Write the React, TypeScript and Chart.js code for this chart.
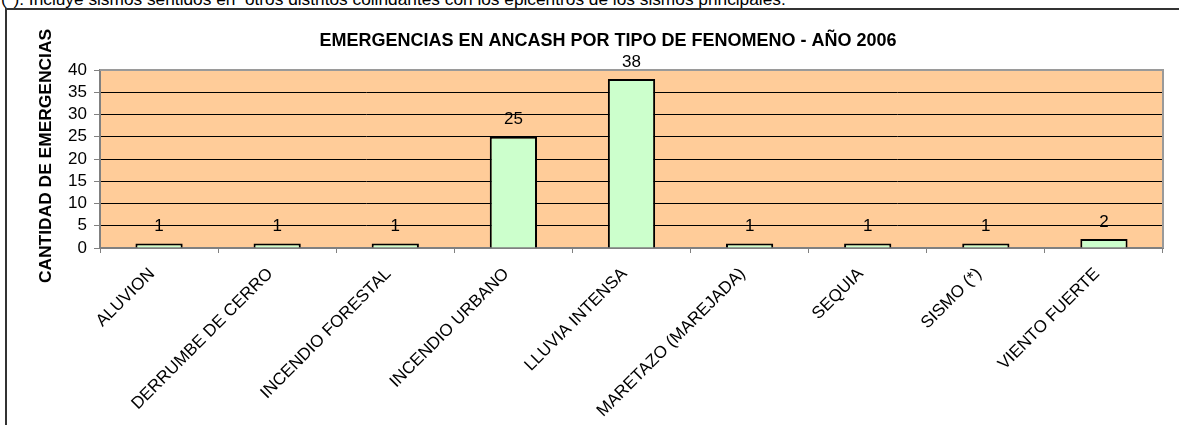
import React, { useEffect, useRef } from "react";
import { Chart, registerables } from "chart.js";

Chart.register(...registerables);

const categories = [
  "ALUVION",
  "DERRUMBE DE CERRO",
  "INCENDIO FORESTAL",
  "INCENDIO URBANO",
  "LLUVIA INTENSA",
  "MARETAZO (MAREJADA)",
  "SEQUIA",
  "SISMO (*)",
  "VIENTO FUERTE",
];
const emergencias = [1, 1, 1, 25, 38, 1, 1, 1, 2];
const yMin = 0;
const yMax = 40;
const yStep = 5;
const chartTitle = "EMERGENCIAS EN ANCASH POR TIPO DE FENOMENO - AÑO 2006";
const yAxisTitle = "CANTIDAD DE EMERGENCIAS";
const footNote =
  "(*): Incluye sismos sentidos en  otros distritos colindantes con los epicentros de los sismos principales.";

const FONT = "Arial, 'Liberation Sans', sans-serif";

const decorPlugin = {
  id: "decor",
  beforeDraw(chart: any) {
    const { ctx, chartArea } = chart;
    ctx.save();
    ctx.fillStyle = "#FFCC99";
    ctx.fillRect(chartArea.left, chartArea.top, chartArea.right - chartArea.left, chartArea.bottom - chartArea.top);
    ctx.restore();
  },
  afterDraw(chart: any) {
    const { ctx, chartArea } = chart;
    ctx.save();
    // top and right plot border
    ctx.strokeStyle = "#9a9a9a";
    ctx.lineWidth = 2;
    ctx.beginPath();
    ctx.moveTo(chartArea.left, chartArea.top);
    ctx.lineTo(chartArea.right, chartArea.top);
    ctx.lineTo(chartArea.right, chartArea.bottom);
    ctx.stroke();
    // title
    ctx.fillStyle = "#000";
    ctx.font = `bold 18px ${FONT}`;
    ctx.textAlign = "center";
    ctx.textBaseline = "middle";
    ctx.fillText(chartTitle, 608, 41);
    // y axis title
    ctx.font = `bold 17.4px ${FONT}`;
    ctx.translate(46, 156);
    ctx.rotate(-Math.PI / 2);
    ctx.fillText(yAxisTitle, 0, 0);
    ctx.restore();
  },
};

const valueLabelPlugin = {
  id: "valueLabels",
  afterDatasetsDraw(chart: any) {
    const { ctx } = chart;
    const meta = chart.getDatasetMeta(0);
    ctx.save();
    ctx.fillStyle = "#000";
    ctx.font = `17px ${FONT}`;
    ctx.textAlign = "center";
    ctx.textBaseline = "middle";
    meta.data.forEach((bar: any, i: number) => {
      ctx.fillText(String(emergencias[i]), bar.x, bar.y - 17);
    });
    ctx.restore();
  },
};

export default function App() {
  const canvasRef = useRef<HTMLCanvasElement | null>(null);

  useEffect(() => {
    const canvas = canvasRef.current;
    if (!canvas) return;
    const chart = new Chart(canvas, {
      type: "bar",
      data: {
        labels: categories,
        datasets: [
          {
            data: emergencias,
            backgroundColor: "#CCFFCC",
            borderColor: "#000000",
            borderWidth: 2,
            categoryPercentage: 1,
            barPercentage: 0.4,
          },
        ],
      },
      options: {
        responsive: false,
        animation: false,
        devicePixelRatio: 1,
        layout: { padding: { left: 0, top: 70, right: 16, bottom: 0 } },
        plugins: {
          legend: { display: false },
          title: { display: false },
          tooltip: { enabled: false },
        },
        scales: {
          x: {
            offset: true,
            grid: {
              offset: true,
              drawOnChartArea: false,
              drawTicks: true,
              tickLength: 5,
              color: "#808080",
              lineWidth: 1,
            },
            border: { color: "#808080", width: 2 },
            ticks: {
              autoSkip: false,
              minRotation: 45,
              maxRotation: 45,
              color: "#000",
              padding: 11,
              labelOffset: -7,
              font: { family: FONT, size: 17 },
            },
            afterFit(scale: any) {
              scale.height = 177;
            },
          },
          y: {
            min: yMin,
            max: yMax,
            ticks: {
              stepSize: yStep,
              autoSkip: false,
              color: "#000",
              padding: 7,
              font: { family: FONT, size: 17 },
            },
            grid: {
              color: "#000000",
              lineWidth: 1,
              tickLength: 6,
              tickColor: "#808080",
            },
            border: { color: "#808080", width: 2 },
            afterFit(scale: any) {
              scale.width = 100;
            },
          },
        },
      },
      plugins: [decorPlugin, valueLabelPlugin],
    });
    return () => chart.destroy();
  }, []);

  return (
    <div
      style={{
        position: "absolute",
        left: 0,
        top: 0,
        width: 1179,
        height: 425,
        overflow: "hidden",
        background: "#fff",
      }}
    >
      <div
        style={{
          position: "absolute",
          left: 1,
          top: -11,
          whiteSpace: "pre",
          fontFamily: FONT,
          fontSize: 17.3,
          lineHeight: "20px",
          color: "#000",
        }}
      >
        {footNote}
      </div>
      <div
        style={{
          position: "absolute",
          left: 5,
          top: 8,
          width: 1220,
          height: 520,
          border: "2px solid #333",
          boxSizing: "border-box",
        }}
      />
      <canvas
        ref={canvasRef}
        width={1179}
        height={425}
        style={{ position: "absolute", left: 0, top: 0, display: "block" }}
      />
    </div>
  );
}
